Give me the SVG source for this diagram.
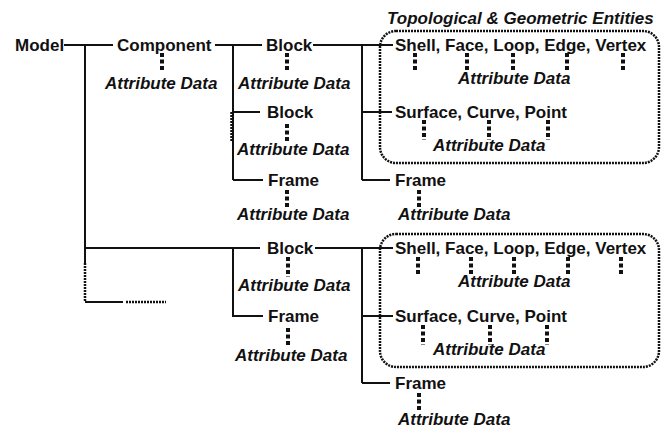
<svg xmlns="http://www.w3.org/2000/svg" width="662" height="428" viewBox="0 0 662 428">
  <style>
    text { font-family: "Liberation Sans", Arial, sans-serif; font-size: 17px; font-weight: bold; fill: #111; }
    .attr { font-style: italic; }
    .line { stroke: #111; stroke-width: 2; fill: none; }
    .fine { stroke: #111; stroke-width: 2.5; fill: none; stroke-dasharray: 2 1; }
    .link { stroke: #111; stroke-width: 4; fill: none; stroke-dasharray: 4 2.5; }
    .group { stroke: #111; stroke-width: 2.5; fill: none; stroke-dasharray: 2 1; }
  </style>
  <rect width="662" height="428" fill="#fff"/>

  <!-- tree connectors -->
  <g id="connectors">
    <path class="line" d="M64 45H113 M85 45V263 M85 248H260 M85 302H123"/>
    <path class="fine" d="M85 263V302 M126 302H166"/>
    <path class="line" d="M215 45H262 M233 45V180 M233 112H260 M233 180H263"/>
    <path class="fine" d="M231.5 112V141"/>
    <path class="line" d="M313 45H393 M362 45V180 M362 112H392 M362 180H390"/>
    <path class="line" d="M233 248V316H263"/>
    <path class="line" d="M315 248H393 M362 248V383 M362 316H393 M362 383H390"/>
    <!-- attribute links -->
    <path class="link" d="M162 53V72 M287 53V72 M287 124V143 M287 190V209 M419 190V208"/>
    <path class="link" d="M415 53V72 M467 53V72 M513 53V72 M567 53V72 M623 53V72"/>
    <path class="link" d="M424 120V140 M489 120V140 M548 120V140"/>
    <path class="link" d="M288 257V277 M288 328V347 M419 393V411"/>
    <path class="link" d="M418 257V276 M471 257V276 M514 257V276 M568 257V276 M621 257V276"/>
    <path class="link" d="M423 325V345 M490 325V345 M547 325V345"/>
  </g>

  <g id="model"><text x="15" y="51">Model</text></g>

  <g id="component">
    <text x="117" y="51">Component</text>
    <text class="attr" x="105" y="89">Attribute Data</text>
  </g>

  <g id="block-1">
    <text x="266" y="51">Block</text>
    <text class="attr" x="238" y="89">Attribute Data</text>
  </g>

  <g id="block-2">
    <text x="267" y="118">Block</text>
    <text class="attr" x="237" y="155">Attribute Data</text>
  </g>

  <g id="frame-1">
    <text x="268" y="186">Frame</text>
    <text class="attr" x="237" y="220">Attribute Data</text>
  </g>

  <g id="entities-1">
    <text class="attr" x="387" y="24">Topological &amp; Geometric Entities</text>
    <rect class="group" x="380" y="31" width="279" height="132" rx="16"/>
    <text x="395" y="51">Shell, Face, Loop, Edge, Vertex</text>
    <text class="attr" x="458" y="84">Attribute Data</text>
    <text x="395" y="118">Surface, Curve, Point</text>
    <text class="attr" x="433" y="151">Attribute Data</text>
  </g>

  <g id="frame-2">
    <text x="395" y="186">Frame</text>
    <text class="attr" x="398" y="220">Attribute Data</text>
  </g>

  <g id="block-3">
    <text x="267" y="254">Block</text>
    <text class="attr" x="238" y="291">Attribute Data</text>
  </g>

  <g id="frame-3">
    <text x="268" y="322">Frame</text>
    <text class="attr" x="235" y="361">Attribute Data</text>
  </g>

  <g id="entities-2">
    <rect class="group" x="380" y="234" width="279" height="133" rx="16"/>
    <text x="395" y="254">Shell, Face, Loop, Edge, Vertex</text>
    <text class="attr" x="458" y="287">Attribute Data</text>
    <text x="395" y="322">Surface, Curve, Point</text>
    <text class="attr" x="433" y="355">Attribute Data</text>
  </g>

  <g id="frame-4">
    <text x="395" y="389">Frame</text>
    <text class="attr" x="398" y="425">Attribute Data</text>
  </g>
</svg>
